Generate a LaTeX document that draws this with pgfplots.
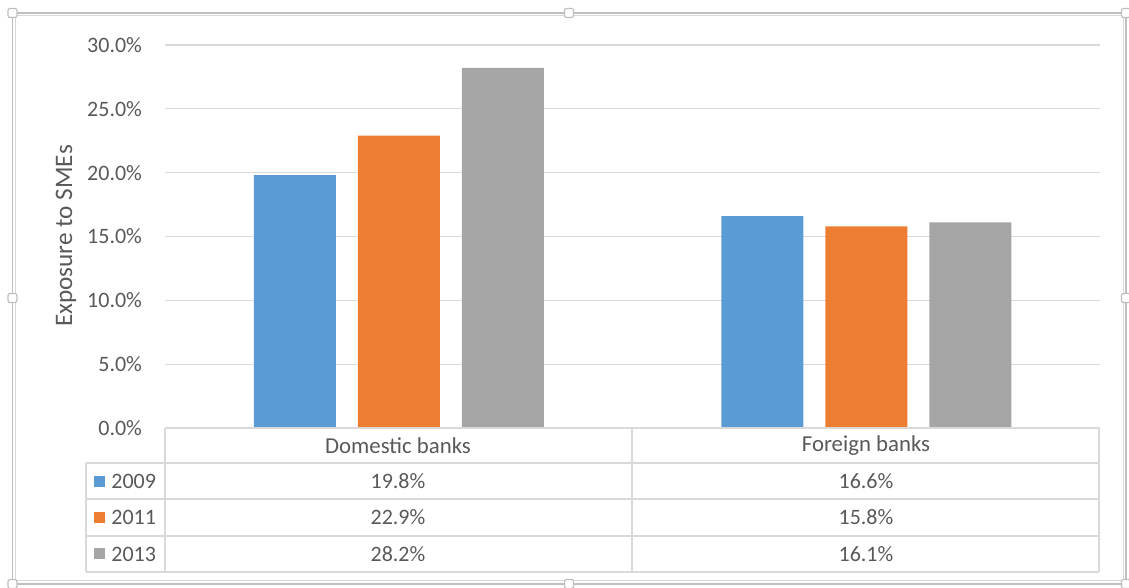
\documentclass[border=0pt]{standalone}
\usepackage{pgfplots}
\pgfplotsset{compat=1.18}
\usepackage{fontspec}
\setmainfont{Carlito}
\definecolor{cBlue}{HTML}{5B9BD5}
\definecolor{cOrange}{HTML}{ED7D31}
\definecolor{cGrey}{HTML}{A5A5A5}
\definecolor{gridc}{HTML}{D9D9D9}
\definecolor{txt}{HTML}{595959}
\definecolor{frame}{HTML}{BFBFBF}
\begin{document}
\begin{tikzpicture}
\useasboundingbox (0,0) rectangle (564.5pt,294pt);
\begin{axis}[
  at={(82.5pt,80pt)}, anchor=south west,
  scale only axis, width=467.5pt, height=191.5pt,
  xmin=0, xmax=2, ymin=0, ymax=30,
  ybar=11pt, bar width=41pt,
  xtick=\empty,
  ytick={0,5,10,15,20,25,30},
  yticklabels={0.0\%,5.0\%,10.0\%,15.0\%,20.0\%,25.0\%,30.0\%},
  yticklabel style={font=\fontsize{11pt}{13pt}\selectfont, text=txt, xshift=-8pt},
  major tick length=0pt,
  axis line style={draw=none},
  ymajorgrids, major grid style={draw=gridc, line width=0.6pt},
  clip=false,
]
\addplot[fill=cBlue, draw=none] coordinates {(0.5,19.8) (1.5,16.6)};
\addplot[fill=cOrange, draw=none] coordinates {(0.5,22.9) (1.5,15.8)};
\addplot[fill=cGrey, draw=none] coordinates {(0.5,28.2) (1.5,16.1)};
\end{axis}
\begin{scope}[x=0.5pt, y=-0.5pt, shift={(0,294pt)}]
  % frame
  \draw[frame, line width=0.6pt] (12.5,13) rectangle (1126,584);
  \draw[gridc, line width=0.5pt] (15.5,16) rectangle (1123,581);
  % handles
  \foreach \hx/\hy in {12.5/13, 569/13, 1126/13, 12.5/298, 1126/298, 12.5/584, 569/584, 1126/584}
    \draw[frame, fill=white, line width=0.6pt, rounded corners=1pt] (\hx-4.5,\hy-4.5) rectangle (\hx+4.5,\hy+4.5);
  % y label
  \node[rotate=90, text=txt, font=\fontsize{12.6pt}{14pt}\selectfont] at (66,236) {Exposure to SMEs};
  % data table
  \begin{scope}[gridc, line width=0.7pt]
    \draw (165,428) -- (1099,428);
    \draw (86,463) -- (1099,463);
    \draw (86,499) -- (1099,499);
    \draw (86,536) -- (1099,536);
    \draw (86,572) -- (1099,572);
    \draw (86,463) -- (86,572);
    \draw (165,428) -- (165,572);
    \draw (632,428) -- (632,572);
    \draw (1099,428) -- (1099,572);
  \end{scope}
  \begin{scope}[text=txt, font=\fontsize{11pt}{13pt}\selectfont]
    \node[font=\fontsize{11.4pt}{13pt}\selectfont] at (398,446) {Domestic banks};
    \node[font=\fontsize{11.4pt}{13pt}\selectfont] at (866,446) {Foreign banks};
    \fill[cBlue] (94,476) rectangle (105,487);
    \fill[cOrange] (94,512) rectangle (105,523);
    \fill[cGrey] (94,548.5) rectangle (105,559.5);
    \node[anchor=west, inner sep=0pt] at (111,481.5) {2009};
    \node[anchor=west, inner sep=0pt] at (111,517.5) {2011};
    \node[anchor=west, inner sep=0pt] at (111,554) {2013};
    \node at (398,481.5) {19.8\%};
    \node at (866,481.5) {16.6\%};
    \node at (398,517.5) {22.9\%};
    \node at (866,517.5) {15.8\%};
    \node at (398,554) {28.2\%};
    \node at (866,554) {16.1\%};
  \end{scope}
\end{scope}
\end{tikzpicture}
\end{document}
